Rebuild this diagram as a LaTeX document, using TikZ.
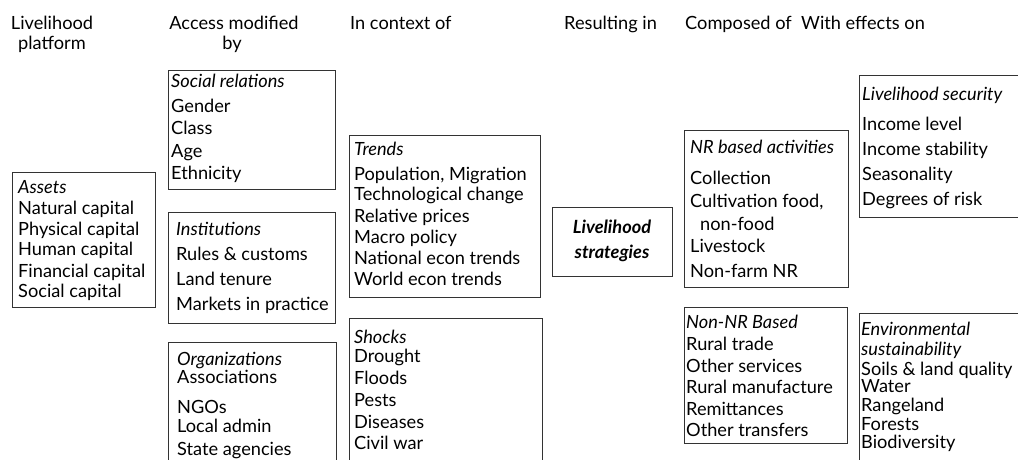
\documentclass[tikz,border=0pt]{standalone}
\usepackage{fontspec}
\setmainfont{Lato}
\tikzset{
  box/.style={draw=black!80, line width=0.9pt, inner sep=0pt, outer sep=0pt, anchor=north west},
  txt/.style={anchor=base west, inner sep=0pt, font=\fontsize{18.2}{20}\selectfont},
  ctxt/.style={anchor=base, inner sep=0pt, font=\fontsize{18.2}{20}\selectfont},
}
\newcommand\mkbox[5]{\node[box, minimum width={#4-#2}, minimum height={#5-#3}] (#1) at (#2,#3) {};}
\newcommand\boxlines[3]{\foreach \yy/\lbl [count=\i] in {#3} {\node[txt] (#1-\i) at (#2,\yy) {\lbl};}}
\begin{document}
\begin{tikzpicture}[x=1pt,y=-1pt]
\useasboundingbox (0,0) rectangle (1018,460);
\clip (0,0) rectangle (1018,460);
% headers
\node[ctxt] (h1a) at (52,30) {Livelihood};
\node[ctxt] (h1b) at (52,50) {platform};
\node[ctxt] (h2a) at (234,30) {Access modified};
\node[ctxt] (h2b) at (232,50) {by};
\node[txt] (h3) at (350,30) {In context of};
\node[txt] (h4) at (564,30) {Resulting in};
\node[txt] (h5) at (685,30) {Composed of};
\node[txt] (h6) at (801,30) {With effects on};
% boxes
\mkbox{sr}{168}{70}{335}{189}
\mkbox{assets}{12}{172}{155}{307}
\mkbox{inst}{168}{212}{335}{323}
\mkbox{org}{168}{342}{336}{480}
\mkbox{trends}{349}{135}{540}{297}
\mkbox{shocks}{349}{318}{542}{480}
\mkbox{ls}{552}{207}{672}{276}
\mkbox{nr}{684}{130}{848}{287}
\mkbox{nonnr}{684}{307}{847}{443}
\mkbox{lsec}{859}{75}{1040}{217}
\mkbox{env}{859}{313}{1040}{480}
% texts
\boxlines{srt}{171}{88/{\itshape Social relations},113/Gender,135/Class,157/Age,179/Ethnicity}
\boxlines{ast}{18}{193/{\itshape Assets},214/Natural capital,235/Physical capital,255/Human capital,277/Financial capital,297/Social capital}
\boxlines{ins}{176}{235/{\itshape Institutions},260/Rules \& customs,285/Land tenure,310/Markets in practice}
\boxlines{ogt}{177}{365/{\itshape Organizations},383/Associations,413/NGOs,432/Local admin,455/State agencies}
\boxlines{trt}{354}{155/{\itshape Trends},180/{Population, Migration},200/Technological change,222/Relative prices,243/Macro policy,264/National econ trends,285/World econ trends}
\boxlines{sht}{354}{343/{\itshape Shocks},362/Drought,384/Floods,406/Pests,428/Diseases,449/Civil war}
\node[ctxt, font=\fontsize{18.2}{20}\selectfont\bfseries\itshape] (lst1) at (612,233) {Livelihood};
\node[ctxt, font=\fontsize{18.2}{20}\selectfont\bfseries\itshape] (lst2) at (612,258) {strategies};
\boxlines{nrt}{690}{153/{\itshape NR based activities},184/Collection,207/{Cultivation food,}}
\node[txt] (nrt-4) at (700,230) {non-food};
\boxlines{nrb}{690}{252/Livestock,277/Non-farm NR}
\boxlines{nnt}{686}{328/{\itshape Non-NR Based},350/Rural trade,372/Other services,393/Rural manufacture,415/Remittances,436/Other transfers}
\boxlines{lst}{862}{100/{\itshape Livelihood security},130/Income level,155/Income stability,180/Seasonality,205/Degrees of risk}
\boxlines{evt}{861}{335/{\itshape Environmental},355/{\itshape sustainability},375/Soils \& land quality,392/Water,411/Rangeland,430/Forests,448/Biodiversity}
\end{tikzpicture}
\end{document}
